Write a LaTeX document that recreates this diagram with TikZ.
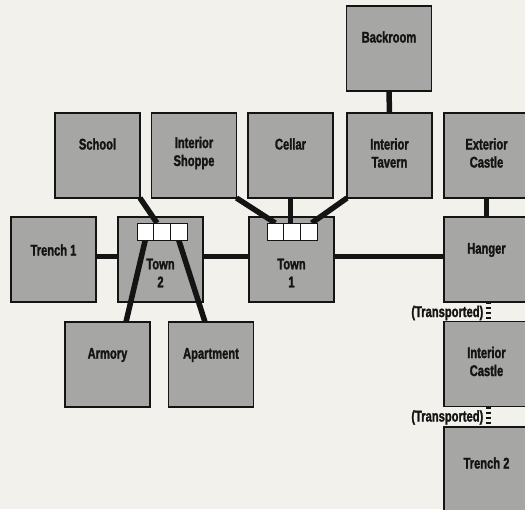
\documentclass[tikz,border=0pt]{standalone}
\usepackage{fontspec}
\newfontfamily\lblfont{Liberation Sans}[UprightFont=* Bold, FakeStretch=0.72, FakeBold=1.5]
\usetikzlibrary{calc}
\definecolor{bg}{RGB}{242,241,236}
\definecolor{boxgray}{RGB}{166,166,164}
\definecolor{ink}{RGB}{20,20,20}
\begin{document}
\begin{tikzpicture}[x=1pt,y=-1pt,
  room/.style={draw=ink,line width=1.4pt,fill=boxgray,minimum width=85pt,minimum height=85pt,inner sep=0pt,outer sep=0pt},
  cellshape/.style={rectangle,minimum width=16.67pt,minimum height=17pt,inner sep=0pt,outer sep=0pt},
  cellfill/.style={draw=ink,line width=0.9pt,fill=white},
  lbl/.style={font=\fontsize{15.5}{18}\lblfont,text=ink,align=center,inner sep=0pt},
  link/.style={draw=ink,line width=5.5pt},
  tlink/.style={draw=ink,line width=5pt,dash pattern=on 2.4pt off 2.6pt},
]
\useasboundingbox (0,0) rectangle (525,509);
\clip (0,0) rectangle (525,509);
\fill[bg] (0,0) rectangle (525,509);

% rooms
\node[room] (backroom)  at (389,48.5) {};
\node[room] (school)    at (97.5,155.5) {};
\node[room] (shoppe)    at (194,155.5) {};
\node[room] (cellar)    at (290.5,155.5) {};
\node[room] (tavern)    at (389.5,155.5) {};
\node[room] (extcastle) at (486.5,155.5) {};
\node[room] (trench1)   at (53.5,259.5) {};
\node[room] (town2)     at (160.5,259.5) {};
\node[room] (town1)     at (291.5,259.5) {};
\node[room] (hanger)    at (486.5,259.5) {};
\node[room] (armory)    at (107.5,364.5) {};
\node[room] (apartment) at (211,364.5) {};
\node[room] (intcastle) at (486.5,364) {};
\node[room] (trench2)   at (486.5,469.5) {};

% cell anchors
\path node[cellshape] (t2a) at (145.3,231.5) {}
      node[cellshape] (t2b) at (162,231.5) {}
      node[cellshape] (t2c) at (178.7,231.5) {}
      node[cellshape] (t1a) at (275.3,231.5) {}
      node[cellshape] (t1b) at (292,231.5) {}
      node[cellshape] (t1c) at (308.7,231.5) {};

% connectors
\draw[link] (backroom.south) -- (tavern.north);
\draw[link] (school.south east) -- ($(t2b.north)+(-5,0)$);
\draw[link] (shoppe.south east) -- (t1a.north);
\draw[link] (cellar.south) -- (cellar.south |- t1b.north);
\draw[link] (tavern.south west) -- ($(t1c.north)+(3,0)$);
\draw[link] (extcastle.south) -- (hanger.north);
\draw[link] ([yshift=3pt]trench1.east) -- ([yshift=3pt]town2.west);
\draw[link] ([yshift=3pt]town2.east) -- ([yshift=3pt]town1.west);
\draw[link] ([yshift=3pt]town1.east) -- ([yshift=3pt]hanger.west);
\draw[link] (t2a.south) -- (armory.north -| 126,0);
\draw[link] (t2c.south) -- (apartment.north -| 205,0);
\draw[tlink] ([xshift=1.5pt]hanger.south) -- ([xshift=1.5pt]intcastle.north);
\draw[tlink] ([xshift=1.5pt]intcastle.south) -- ([xshift=1.5pt]trench2.north);

% cells drawn on top
\foreach \c in {t2a,t2b,t2c,t1a,t1b,t1c}
  \draw[cellfill] (\c.north west) rectangle (\c.south east);

% labels
\node[lbl] at ($(backroom.north)+(0,31)$) {Backroom};
\node[lbl] at ($(school.north)+(0,31)$) {School};
\node[lbl] at ($(shoppe.north)+(0,40)$) {Interior\\Shoppe};
\node[lbl] at ($(cellar.north)+(0,31)$) {Cellar};
\node[lbl] at ($(tavern.north)+(0,40)$) {Interior\\Tavern};
\node[lbl] at ($(extcastle.north)+(0,40)$) {Exterior\\Castle};
\node[lbl] at ($(trench1.north)+(0,33)$) {Trench 1};
\node[lbl] at ($(town2.north)+(0,56)$) {Town\\2};
\node[lbl] at ($(town1.north)+(0,56)$) {Town\\1};
\node[lbl] at ($(hanger.north)+(0,33)$) {Hanger};
\node[lbl] at ($(armory.north)+(0,33)$) {Armory};
\node[lbl] at ($(apartment.north)+(0,33)$) {Apartment};
\node[lbl] at ($(intcastle.north)+(0,40)$) {Interior\\Castle};
\node[lbl] at ($(trench2.north)+(0,36)$) {Trench 2};
\node[lbl,anchor=east] at ($(hanger.south)+(-3,11)$) {(Transported)};
\node[lbl,anchor=east] at ($(intcastle.south)+(-3,11)$) {(Transported)};
\end{tikzpicture}
\end{document}
